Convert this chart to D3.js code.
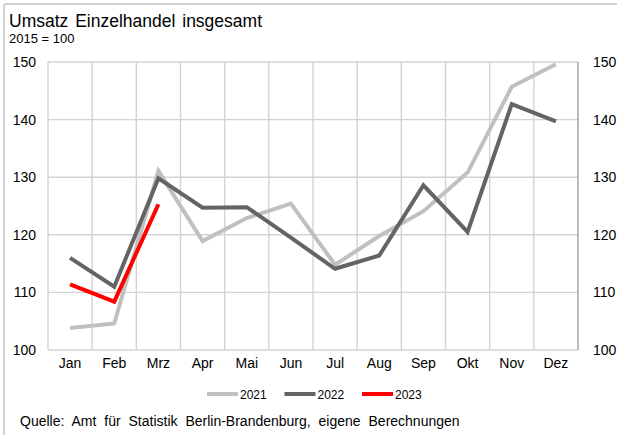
<!DOCTYPE html>
<html>
<head>
<meta charset="utf-8">
<style>
  body { margin: 0; background: #fff; }
  svg { display: block; font-family: "Liberation Sans", Arial, sans-serif; }
</style>
</head>
<body>
<div id="viz"></div>
<script src="https://d3js.org/d3.v7.min.js"></script>
<script>
  // data
  const months = ["Jan", "Feb", "Mrz", "Apr", "Mai", "Jun", "Jul", "Aug", "Sep", "Okt", "Nov", "Dez"];
  const years = ["2021", "2022", "2023"];
  const values2021 = [103.8, 104.6, 131.1, 118.9, 122.9, 125.4, 114.8, 119.8, 124.1, 130.8, 145.7, 149.6];
  const values2022 = [116.0, 111.0, 129.8, 124.7, 124.8, 119.5, 114.1, 116.4, 128.6, 120.5, 142.7, 139.7];
  const values2023 = [111.4, 108.4, 125.3];
  const yTicks = [100, 110, 120, 130, 140, 150];
  const colors = ["#c0c0c0", "#646464", "#ff0000"];

  const series = [values2021, values2022, values2023];

  const width = 617,
        height = 435;

  const plot = { left: 48, right: 578, top: 62, bottom: 350 };

  const svg = d3.select("#viz").append("svg")
      .attr("width", width)
      .attr("height", height);

  // outer frame (only top + left visible)
  svg.append("line")
      .attr("x1", 4).attr("x2", width).attr("y1", 4).attr("y2", 4)
      .attr("stroke", "#d0d0d0").attr("stroke-width", 2);
  svg.append("line")
      .attr("x1", 4).attr("x2", 4).attr("y1", 4).attr("y2", height)
      .attr("stroke", "#d0d0d0").attr("stroke-width", 2);

  const x = d3.scaleBand()
      .domain(months)
      .range([plot.left, plot.right]);

  const y = d3.scaleLinear()
      .domain([100, 150])
      .range([plot.bottom, plot.top]);

  // grid
  const grid = svg.append("g").attr("stroke", "#d3d3d3").attr("stroke-width", 1.4);
  grid.selectAll(".hgrid")
      .data(yTicks)
    .enter().append("line")
      .attr("x1", plot.left).attr("x2", plot.right)
      .attr("y1", d => y(d)).attr("y2", d => y(d));
  grid.selectAll(".vgrid")
      .data(months)
    .enter().append("line")
      .attr("x1", d => x(d)).attr("x2", d => x(d))
      .attr("y1", plot.top).attr("y2", plot.bottom);

  svg.append("line")
      .attr("x1", plot.right).attr("x2", plot.right)
      .attr("y1", plot.top).attr("y2", plot.bottom)
      .attr("stroke", "#a6a6a6").attr("stroke-width", 1.5);

  // axes (labels only)
  const axisLeft = svg.append("g")
      .attr("transform", `translate(${plot.left},0)`)
      .call(d3.axisLeft(y).tickValues(yTicks).tickSize(0).tickPadding(12));
  const axisRight = svg.append("g")
      .attr("transform", `translate(${plot.right},0)`)
      .call(d3.axisRight(y).tickValues(yTicks).tickSize(0).tickPadding(15));
  const axisBottom = svg.append("g")
      .attr("transform", `translate(0,${plot.bottom})`)
      .call(d3.axisBottom(x).tickSize(0).tickPadding(8));

  [axisLeft, axisRight, axisBottom].forEach(a => {
    a.select(".domain").remove();
    a.selectAll("text")
        .attr("fill", "#000")
        .style("font-size", "14px")
        .style("font-family", "'Liberation Sans', Arial, sans-serif");
  });

  // lines
  const line = d3.line()
      .x((d, i) => x(months[i]) + x.bandwidth() / 2)
      .y(d => y(d));

  svg.selectAll(".series")
      .data(series)
    .enter().append("path")
      .attr("class", "series")
      .attr("d", d => line(d))
      .attr("fill", "none")
      .attr("stroke", (d, i) => colors[i])
      .attr("stroke-width", 4)
      .attr("stroke-linejoin", "miter");

  // titles
  svg.append("text")
      .attr("x", 9).attr("y", 27)
      .style("font-size", "17.5px")
      .style("word-spacing", "2px")
      .text("Umsatz Einzelhandel insgesamt");
  svg.append("text")
      .attr("x", 9).attr("y", 43)
      .style("font-size", "13px")
      .text("2015 = 100");

  // legend
  const legend = svg.selectAll(".legend")
      .data(years)
    .enter().append("g")
      .attr("class", "legend")
      .attr("transform", (d, i) => `translate(${207 + i * 77.5},394)`);
  legend.append("line")
      .attr("x1", 0).attr("x2", 31)
      .attr("stroke", (d, i) => colors[i])
      .attr("stroke-width", 4);
  legend.append("text")
      .attr("x", 33).attr("y", 4.5)
      .style("font-size", "12px")
      .text(d => d);

  // source
  svg.append("text")
      .attr("x", 20).attr("y", 426)
      .style("font-size", "14px")
      .style("word-spacing", "4px")
      .text("Quelle: Amt für Statistik Berlin-Brandenburg, eigene Berechnungen");
</script>
</body>
</html>
